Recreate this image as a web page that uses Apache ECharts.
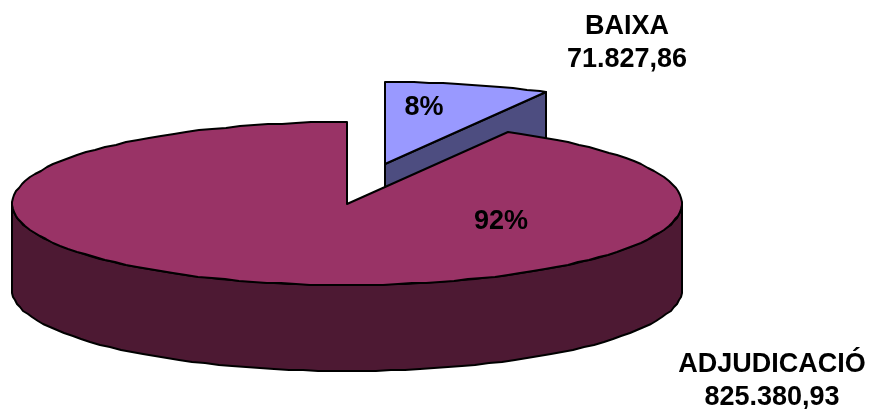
<!DOCTYPE html>
<html><head><meta charset="utf-8">
<style>html,body{margin:0;padding:0;background:#fff}#c{width:871px;height:409px}</style>
<script src="https://cdn.jsdelivr.net/npm/echarts@6/dist/echarts.min.js"></script>
</head><body><div id="c"></div>
<script>
const categories = ['BAIXA', 'ADJUDICACIÓ'];
const values = [71827.86, 825380.93];
const valueLabels = ['71.827,86', '825.380,93'];
const topColors = ['#9999FF', '#993366'];
const sideColors = ['#4D4D80', '#4D1933'];

const total = values.reduce((a, b) => a + b, 0);
const CX = 347, CY = 203.5, RX = 335, RY = 81.5, DEPTH = 86, STEP = 2.5;
const explode = [[38, -40], [0, 0]];
const pctPos = [[424, 108], [501, 222]];
const namePos = [[627, 27], [772, 365]];
const valuePos = [[627, 60], [772, 398]];
const FONT = '"Liberation Sans", Arial, sans-serif';

const rad = d => d * Math.PI / 180;
function pt(cx, cy, deg, dy) {
  return [Math.round(cx + RX * Math.sin(rad(deg))), Math.round(cy - RY * Math.cos(rad(deg)) + (dy || 0))];
}
function arc(cx, cy, a, b, dy) {
  const out = [];
  for (let d = a; d < b; d += STEP) out.push(pt(cx, cy, d, dy));
  out.push(pt(cx, cy, b, dy));
  return out;
}
const lineStyle = { stroke: '#000', lineWidth: 2, lineJoin: 'round' };
function poly(points, fill) {
  return { type: 'polygon', shape: { points }, style: Object.assign({ fill }, lineStyle) };
}
function text(x, y, t) {
  return { type: 'text', x, y, style: { text: t, fill: '#000', font: 'bold 27px ' + FONT, textAlign: 'center', textVerticalAlign: 'middle' } };
}

function renderItem(params, api) {
  const i = params.dataIndex;
  let start = 0;
  for (let k = 0; k < i; k++) start += values[k];
  const a0 = start / total * 360;
  const a1 = (start + api.value(0)) / total * 360;
  const cx = CX + explode[i][0], cy = CY + explode[i][1];
  const ch = [];
  // visible cut face at the end angle
  if (Math.sin(rad(a1)) > 0.001) {
    const e = pt(cx, cy, a1);
    const e2 = pt(cx, cy, a1, DEPTH);
    ch.push(poly([[cx, Math.round(cy)], e, e2, [cx, Math.round(cy + DEPTH)]], sideColors[i]));
  }
  // front outer wall
  const f0 = Math.max(a0, 90), f1 = Math.min(a1, 270);
  if (f1 > f0) {
    ch.push(poly(arc(cx, cy, f0, f1, 0).concat(arc(cx, cy, f0, f1, DEPTH).reverse()), sideColors[i]));
  }
  // top face
  ch.push(poly([[cx, Math.round(cy)]].concat(arc(cx, cy, a0, a1, 0)), topColors[i]));
  ch.push(text(pctPos[i][0], pctPos[i][1], Math.round(api.value(0) / total * 100) + '%'));
  ch.push(text(namePos[i][0], namePos[i][1], categories[i]));
  ch.push(text(valuePos[i][0], valuePos[i][1], valueLabels[i]));
  return { type: 'group', children: ch };
}

const chart = echarts.init(document.getElementById('c'), null, { renderer: 'canvas' });
chart.setOption({
  animation: false,
  backgroundColor: '#fff',
  series: [{
    type: 'custom',
    coordinateSystem: 'none',
    renderItem,
    data: values.map(v => [v])
  }]
});
</script></body></html>
